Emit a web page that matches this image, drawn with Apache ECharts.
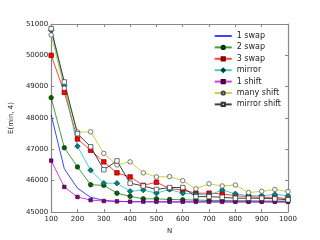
<!DOCTYPE html>
<html><head><meta charset="utf-8">
<script src="https://cdn.jsdelivr.net/npm/echarts@6/dist/echarts.min.js"></script>
<style>html,body{margin:0;padding:0;background:#fff}#c{width:320px;height:240px}</style>
</head><body><div id="c"></div>
<script>
const N = [100,150,200,250,300,350,400,450,500,550,600,650,700,750,800,850,900,950,1000];
const swap1 = [48100,46380,45760,45470,45370,45340,45330,45325,45320,45320,45320,45320,45320,45320,45320,45320,45320,45320,45320];
const swap2 = [48650,47050,46440,45870,45850,45600,45500,45420,45420,45400,45390,45380,45370,45370,45360,45360,45350,45350,45350];
const swap3 = [50000,48820,47330,46970,46600,46250,46120,45850,45950,45750,45700,45600,45600,45580,45520,45490,45470,45470,45420];
const mirror = [50800,49030,47100,46330,45920,45920,45660,45700,45600,45720,45600,45570,45540,45700,45580,45520,45520,45560,45520];
const shift1 = [46640,45800,45480,45380,45350,45340,45330,45330,45330,45325,45325,45325,45325,45325,45325,45325,45325,45325,45325];
const manyShift = [50650,48950,47550,47560,46870,46500,46600,46250,46120,46130,46000,45740,45900,45830,45860,45620,45660,45720,45650];
const mirrorShift = [50850,49150,47500,47080,46350,46630,45920,45830,45720,45780,45780,45490,45490,45470,45440,45440,45440,45420,45390];
const seriesNames = ['1 swap','2 swap','3 swap','mirror','1 shift','many shift','mirror shift'];

const font = 'DejaVu Sans';
function pts(arr){ return N.map((n,i)=>[n,arr[i]]); }
function ser(name, data, color, symbol, fill, edge, size){
  return {
    name, type:'line', data: pts(data), xAxisIndex:0, yAxisIndex:0,
    symbol: symbol, symbolSize: size||4.5, showSymbol: symbol!=='none',
    lineStyle:{color: color, width:1, opacity:0.75},
    itemStyle:{color: fill, borderColor: edge, borderWidth:0.7},
    emphasis:{disabled:true}, animation:false
  };
}
const chart = echarts.init(document.getElementById('c'), null, {renderer:'canvas'});
const axisLine = {show:true, lineStyle:{color:'#888', width:1.2}};
const fmt = v => String(v);
const legendData = seriesNames.map((n,i)=> i===0 ? {name:n, itemStyle:{opacity:0}} : {name:n});
chart.setOption({
  animation:false,
  grid:{left:40, right:32, top:24, bottom:25, containLabel:false},
  legend:{
    right:34, top:27, orient:'vertical', itemGap:3.4, itemWidth:17, itemHeight:4,
    textStyle:{fontFamily:font, fontSize:8, color:'#222', lineHeight:7},
    data: legendData
  },
  xAxis:[{
    type:'value', min:100, max:1000, interval:100,
    name:'N', nameLocation:'middle', nameGap:16,
    nameTextStyle:{fontFamily:font, fontSize:7, color:'#222'},
    axisLine, axisTick:{show:true, inside:true, length:3, lineStyle:{color:'#888'}},
    axisLabel:{fontFamily:font, fontSize:7, color:'#222', margin:4, formatter:fmt},
    splitLine:{show:false}
  },{
    type:'value', position:'top', min:100, max:1000, interval:100,
    axisLine, axisTick:{show:true, inside:true, length:3, lineStyle:{color:'#888'}},
    axisLabel:{show:false}, splitLine:{show:false}
  }],
  yAxis:[{
    type:'value', min:45000, max:51000, interval:1000,
    name:'E(min, 4)', nameLocation:'middle', nameGap:29, nameRotate:90,
    nameTextStyle:{fontFamily:font, fontSize:7, color:'#222'},
    axisLine, axisTick:{show:true, inside:true, length:3, lineStyle:{color:'#888'}},
    axisLabel:{fontFamily:font, fontSize:7, color:'#222', margin:3, formatter:fmt},
    splitLine:{show:false}
  },{
    type:'value', position:'right', min:45000, max:51000, interval:1000,
    axisLine, axisTick:{show:true, inside:true, length:3, lineStyle:{color:'#888'}},
    axisLabel:{show:false}, splitLine:{show:false}
  }],
  series:[
    ser(seriesNames[0], swap1, '#0000ff', 'none', '#0000ff', '#0000ff'),
    ser(seriesNames[1], swap2, '#008000', 'circle', '#006400', '#003000', 4.5),
    ser(seriesNames[2], swap3, '#ff0000', 'rect', '#ff0000', '#800000', 4.5),
    ser(seriesNames[3], mirror, '#00c0c0', 'diamond', '#008080', '#004040', 5.5),
    ser(seriesNames[4], shift1, '#c000c0', 'rect', '#800080', '#400040', 3.5),
    ser(seriesNames[5], manyShift, '#c0c000', 'circle', '#ffffff', '#444444', 4.5),
    ser(seriesNames[6], mirrorShift, '#000000', 'rect', '#ffffff', '#333333', 4.5)
  ]
});
</script></body></html>
